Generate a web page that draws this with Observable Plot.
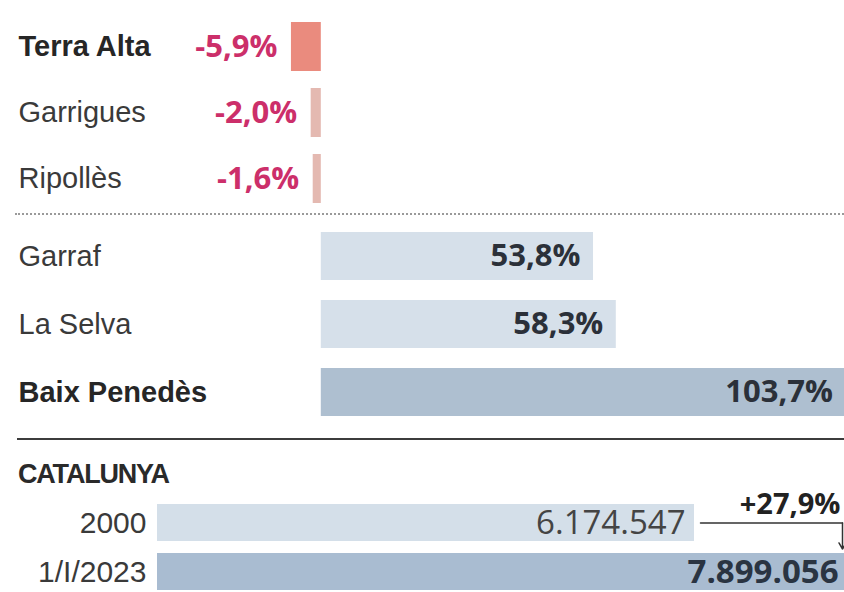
<!DOCTYPE html>
<html>
<head>
<meta charset="utf-8">
<script src="https://cdn.jsdelivr.net/npm/d3@7"></script>
<script src="https://cdn.jsdelivr.net/npm/@observablehq/plot@0.6"></script>
<style>
  html, body { margin: 0; padding: 0; background: #fff; }
  body { width: 844px; height: 592px; overflow: hidden; }
  svg { display: block; }
  .dotted { height: 0; margin-left: 15px; border-top: 2px dotted #9a9a9a; }
  .solid { height: 0; margin-left: 17px; border-top: 2px solid #3c3c3c; }
  .head { box-sizing: border-box; height: 40px; padding: 19px 0 0 18px; line-height: 30px;
          position: relative; z-index: 1; overflow: visible;
          font-family: 'Liberation Sans', Arial, sans-serif; letter-spacing: -1.2px;
          font-weight: bold; font-size: 27px; color: #2a2a2a; }
  #c svg { background: transparent; }
</style>
</head>
<body>
<div id="a"></div>
<div class="dotted"></div>
<div id="b"></div>
<div class="solid"></div>
<div class="head" id="titol"></div>
<div id="c"></div>
<script>
// ---- data ----
const comarques = ["Terra Alta", "Garrigues", "Ripollès", "Garraf", "La Selva", "Baix Penedès"];
const variacio = [-5.9, -2.0, -1.6, 53.8, 58.3, 103.7];
const titolTotal = "CATALUNYA";
const anys = ["2000", "1/I/2023"];
const poblacio = [6174547, 7899056];

// ---- formatting ----
const loc = d3.formatLocale({decimal: ",", thousands: ".", grouping: [3], currency: ["", "€"], minus: "-"});
const fPct = loc.format(".1f");
const fPctSigned = loc.format("+.1f");
const fPob = loc.format(",d");

const NAME_FONT = "'Liberation Sans', Arial, sans-serif";
const NUM_FONT = "'Open Sans', 'Noto Sans', sans-serif";

const rows = comarques.map((nom, i) => ({nom, v: variacio[i]}));
const neg = rows.filter(d => d.v < 0);
const pos = rows.filter(d => d.v >= 0);
const minNeg = d3.min(neg, d => d.v), maxPos = d3.max(pos, d => d.v);
rows.forEach(d => d.dest = d.v === minNeg || d.v === maxPos);

const xPct = {domain: [-63.4, 103.4], axis: null};

function namesMarks(data) {
  return [
    Plot.text(data.filter(d => d.dest), {y: "nom", text: "nom", frameAnchor: "left", textAnchor: "start", dx: 18,
      fontFamily: NAME_FONT, fontSize: 29, fontWeight: "bold", fill: "#262626"}),
    Plot.text(data.filter(d => !d.dest), {y: "nom", text: "nom", frameAnchor: "left", textAnchor: "start", dx: 18,
      fontFamily: NAME_FONT, fontSize: 29, fill: "#3a3a3a"})
  ];
}

// ---- negative group ----
const plotA = Plot.plot({
  width: 844, height: 213,
  marginLeft: 0, marginRight: 0, marginTop: 15, marginBottom: 3,
  x: xPct,
  y: {domain: neg.map(d => d.nom), axis: null, paddingInner: 0.256, paddingOuter: 0.1},
  color: {type: "identity"},
  marks: [
    Plot.barX(neg, {y: "nom", x1: 0, x2: "v", fill: d => d.dest ? "#ea8b7e" : "#e4b9b1"}),
    ...namesMarks(neg),
    Plot.text(neg, {x: "v", y: "nom", text: d => fPct(d.v) + "%", textAnchor: "end", dx: -14,
      fontFamily: NUM_FONT, fontSize: 31, fontWeight: "bold", fill: "#cc2f6a"})
  ]
});
document.getElementById("a").append(plotA);

// ---- positive group ----
const plotB = Plot.plot({
  width: 844, height: 223,
  marginLeft: 0, marginRight: 0, marginTop: 10, marginBottom: 15,
  x: xPct,
  y: {domain: pos.map(d => d.nom), axis: null, paddingInner: 0.294, paddingOuter: 0.1},
  color: {type: "identity"},
  marks: [
    Plot.barX(pos, {y: "nom", x1: 0, x2: "v", fill: d => d.dest ? "#aebfd0" : "#d6e0ea"}),
    ...namesMarks(pos),
    Plot.text(pos, {x: "v", y: "nom", text: d => fPct(d.v) + "%", textAnchor: "end", dx: -13,
      fontFamily: NUM_FONT, fontSize: 31, fontWeight: "bold", fill: "#2b3039"})
  ]
});
document.getElementById("b").append(plotB);

// ---- Catalunya ----
document.getElementById("titol").textContent = titolTotal;
const cat = anys.map((a, i) => ({any: a, pob: poblacio[i]}));
const maxPob = d3.max(poblacio);
const canvi = (poblacio[1] / poblacio[0] - 1) * 100;
const link = [{x1: poblacio[0], x2: poblacio[1], y1: anys[0], y2: anys[1]}];

const plotC = Plot.plot({
  width: 844, height: 112,
  marginLeft: 157, marginRight: 0, marginTop: 23, marginBottom: 1,
  style: {background: "transparent"},
  x: {domain: [0, maxPob], axis: null},
  y: {domain: anys, axis: null, paddingInner: 0.245, paddingOuter: 0.02},
  color: {type: "identity"},
  marks: [
    Plot.barX(cat, {y: "any", x1: 0, x2: "pob", fill: d => d.pob === maxPob ? "#a9bcd1" : "#d4dfe9"}),
    Plot.text(cat, {y: "any", text: "any", frameAnchor: "left", textAnchor: "end", dx: -11,
      fontFamily: NAME_FONT, fontSize: 30, fill: "#3a3a3a"}),
    Plot.text(cat.filter(d => d.pob !== maxPob), {x: "pob", y: "any", text: d => fPob(d.pob), textAnchor: "end", dx: -9,
      fontFamily: NUM_FONT, fontSize: 33, fill: "#444"}),
    Plot.text(cat.filter(d => d.pob === maxPob), {x: "pob", y: "any", text: d => fPob(d.pob), textAnchor: "end", dx: -6,
      fontFamily: NUM_FONT, fontSize: 33, fontWeight: "bold", fill: "#2a3442"}),
    Plot.arrow(link, {x1: d => d.x1, x2: d => d.x2, y1: d => d.y1, y2: d => d.y1, insetStart: 8, headLength: 0,
      dx: -2, stroke: "#333", strokeWidth: 1.5}),
    Plot.arrow(link, {x1: d => d.x2, x2: d => d.x2, y1: d => d.y1, y2: d => d.y2, insetEnd: 23, headLength: 7,
      dx: -2, stroke: "#333", strokeWidth: 1.5}),
    Plot.text(link, {x: d => d.x2, y: d => d.y1, text: () => fPctSigned(canvi) + "%", textAnchor: "end", dx: -4, dy: -18,
      fontFamily: NUM_FONT, fontSize: 29, fontWeight: "bold", fill: "#222"})
  ]
});
document.getElementById("c").append(plotC);
</script>
</body>
</html>
